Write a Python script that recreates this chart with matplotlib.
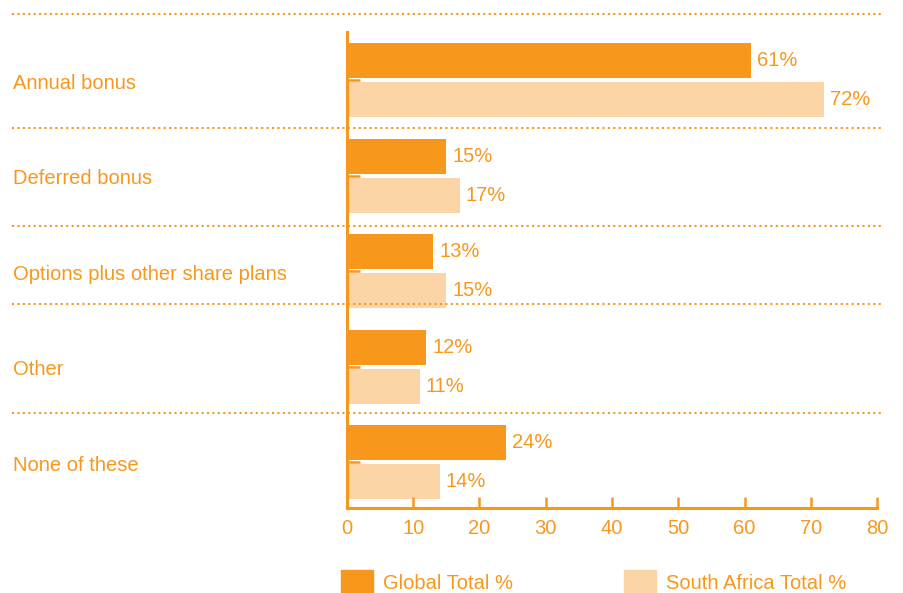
import numpy as np
import matplotlib.pyplot as plt
import matplotlib.transforms as mtransforms
from matplotlib.patches import Patch

categories = ["Annual bonus", "Deferred bonus", "Options plus other share plans", "Other", "None of these"]
global_total = [61, 15, 13, 12, 24]
south_africa = [72, 17, 15, 11, 14]
series_names = ["Global Total %", "South Africa Total %"]
separators = [-0.691, 0.503, 1.529, 2.346, 3.487]

ORANGE = "#F7981D"
LIGHT = "#FBD5A5"

plt.rcParams['font.family'] = ['Liberation Sans', 'DejaVu Sans']
plt.rcParams['font.size'] = 14.5

fig = plt.figure(figsize=(9.04, 5.93), dpi=100)
ax = fig.add_axes([347/904, 1-508/593, 530/904, 476/593])

y = np.arange(len(categories))
h = 0.367
off = 0.204
ax.barh(y - off, global_total, height=h, color=ORANGE, label=series_names[0])
ax.barh(y + off, south_africa, height=h, color=LIGHT, label=series_names[1])

# category names sit at the far left of the figure, level with each group
label_trans = mtransforms.blended_transform_factory(fig.transFigure, ax.transData)
label_trans = label_trans + mtransforms.ScaledTranslation(0, -3/100, fig.dpi_scale_trans)
for i in range(len(categories)):
    ax.text(global_total[i] + 0.9, y[i] - off, "%d%%" % global_total[i], va="center", ha="left", color=ORANGE)
    ax.text(south_africa[i] + 0.9, y[i] + off, "%d%%" % south_africa[i], va="center", ha="left", color=ORANGE)
    ax.text(13/904, y[i], categories[i], va="center", ha="left", color=ORANGE, transform=label_trans)

for s in separators:
    ax.axhline(s, xmin=-0.632, xmax=1.009, color=ORANGE, lw=1.5, ls=(0, (1, 1.6)), clip_on=False)

ax.set_xlim(0, 80)
ax.set_ylim(4.48, -0.503)
ax.set_xticks(range(0, 81, 10))
ax.set_yticks(y)
ax.set_yticklabels([])
ax.tick_params(axis="x", direction="in", length=8, width=1.8, color=ORANGE, labelcolor=ORANGE, pad=8)
ax.tick_params(axis="y", direction="in", length=9, width=1.8, color=ORANGE)
for side in ["top", "right"]:
    ax.spines[side].set_visible(False)
for side in ["left", "bottom"]:
    ax.spines[side].set_color(ORANGE)
    ax.spines[side].set_linewidth(2.2)

handles = [Patch(color=ORANGE), Patch(color=LIGHT)]
leg = fig.legend(handles, series_names, loc="upper left", bbox_to_anchor=(341/904, 1-570/593),
                 ncol=2, frameon=False, handlelength=1.59, handleheight=1.49,
                 handletextpad=0.5, columnspacing=5.5, borderaxespad=0, borderpad=0)
for t in leg.get_texts():
    t.set_color(ORANGE)

fig.savefig("out.png", dpi=100)
